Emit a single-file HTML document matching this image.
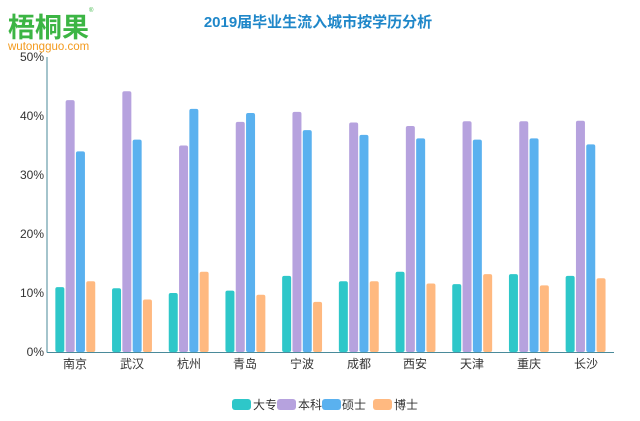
<!DOCTYPE html>
<html><head><meta charset="utf-8"><style>
body{margin:0;background:#fff;width:640px;height:416px;overflow:hidden}
svg{font-family:"Liberation Sans","Noto Sans CJK SC",sans-serif}
</style></head><body>
<svg id="s" width="640" height="416" xmlns="http://www.w3.org/2000/svg">
<text x="8" y="37" font-size="27" font-weight="bold" fill="#3cb544" font-family="Noto Sans CJK SC,sans-serif">梧桐果</text>
<text x="89" y="12" font-size="6" fill="#3cb544">®</text>
<text x="8" y="50" font-size="11.5" fill="#f39a1d">wutongguo.com</text>
<text x="318" y="27" font-size="15" font-weight="bold" fill="#1f87c9" text-anchor="middle">2019届毕业生流入城市按学历分析</text>
<g font-size="12" fill="#333" text-anchor="end">
<text x="44" y="61">50%</text><text x="44" y="120">40%</text><text x="44" y="179">30%</text>
<text x="44" y="238">20%</text><text x="44" y="297">10%</text><text x="44" y="356">0%</text>
</g>
<g font-size="12" fill="#333" text-anchor="middle">
<text x="75" y="368">南京</text><text x="132" y="368">武汉</text><text x="189" y="368">杭州</text>
<text x="245" y="368">青岛</text><text x="302" y="368">宁波</text><text x="359" y="368">成都</text>
<text x="415" y="368">西安</text><text x="472" y="368">天津</text><text x="529" y="368">重庆</text>
<text x="586" y="368">长沙</text>
</g>
<g id="bars"></g>
<line x1="47" y1="57" x2="47" y2="352.5" stroke="#4a8a9a" stroke-width="1"/>
<line x1="47" y1="352.5" x2="614" y2="352.5" stroke="#4a8a9a" stroke-width="1"/>
<g font-size="12" fill="#333">
<rect x="232" y="399" width="19" height="11" rx="3" fill="#2ec7c9"/><text x="253" y="409">大专</text>
<rect x="277" y="399" width="19" height="11" rx="3" fill="#b6a2de"/><text x="298" y="409">本科</text>
<rect x="322" y="399" width="19" height="11" rx="3" fill="#5ab1ef"/><text x="342" y="409">硕士</text>
<rect x="373" y="399" width="19" height="11" rx="3" fill="#ffb980"/><text x="394" y="409">博士</text>
</g>
</svg>
<script>
var d=[[11,42.7,34,12],[10.8,44.2,36,8.9],[10,35,41.2,13.6],[10.4,39,40.5,9.7],[12.9,40.7,37.6,8.5],[12,38.9,36.8,12],[13.6,38.3,36.2,11.6],[11.5,39.1,36,13.2],[13.2,39.1,36.2,11.3],[12.9,39.2,35.2,12.5]];
var c=["#2ec7c9","#b6a2de","#5ab1ef","#ffb980"],ns="http://www.w3.org/2000/svg";
var g=document.getElementById("bars");
d.forEach(function(r,i){var cx=47+56.7*i+28.35;r.forEach(function(v,j){var x=cx-20+j*10.3,hh=v*5.9;
var e=document.createElementNS(ns,"rect");e.setAttribute("x",x);e.setAttribute("y",352-hh);e.setAttribute("width",9);e.setAttribute("height",hh);e.setAttribute("rx",2);e.setAttribute("fill",c[j]);g.appendChild(e);});});
</script>
</body></html>
